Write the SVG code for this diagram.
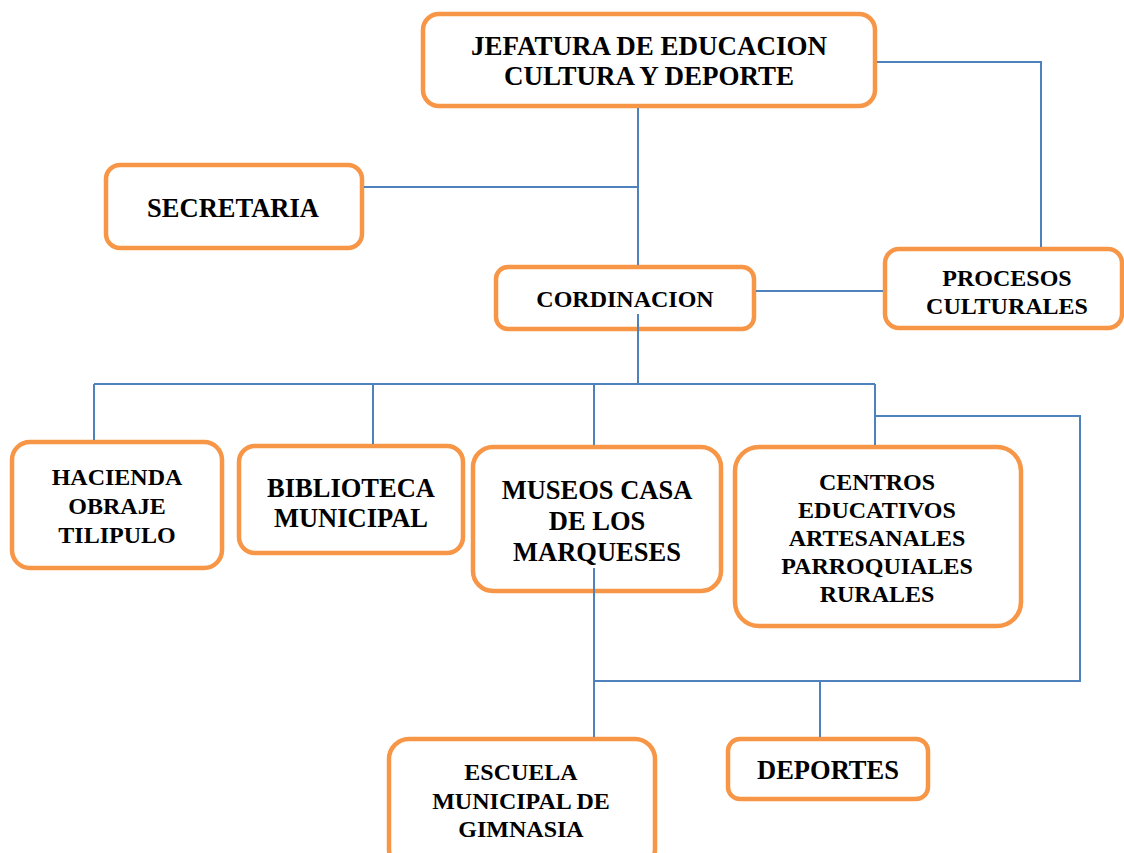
<svg xmlns="http://www.w3.org/2000/svg" width="1124" height="853" viewBox="0 0 1124 853">
<style>
.box{fill:#fff;stroke:#F79646;stroke-width:4.5}
.ln{fill:none;stroke:#4F81BD;stroke-width:2}
text{font-family:"Liberation Serif","Times New Roman",serif;font-weight:bold;fill:#000;text-anchor:middle}
</style>
<rect width="1124" height="853" fill="#fff"/>
<g id="jefatura"><rect class="box" x="423" y="14" width="452" height="92" rx="16"/><text x="649" y="55" font-size="27">JEFATURA DE EDUCACION</text><text x="649" y="85" font-size="27">CULTURA Y DEPORTE</text></g>
<g id="secretaria"><rect class="box" x="106" y="165" width="256" height="83" rx="14"/><text x="233" y="217" font-size="26.5">SECRETARIA</text></g>
<g id="cordinacion"><rect class="box" x="496" y="267" width="258" height="62" rx="12"/><text x="625" y="307" font-size="24">CORDINACION</text></g>
<g id="procesos"><rect class="box" x="885" y="249" width="237" height="79" rx="14"/><text x="1007" y="286" font-size="24">PROCESOS</text><text x="1007" y="314" font-size="24">CULTURALES</text></g>
<g id="hacienda"><rect class="box" x="12" y="442" width="210" height="126" rx="18"/><text x="117" y="485" font-size="24">HACIENDA</text><text x="117" y="514" font-size="24">OBRAJE</text><text x="117" y="543" font-size="24">TILIPULO</text></g>
<g id="biblioteca"><rect class="box" x="239" y="446" width="224" height="107" rx="16"/><text x="351" y="497" font-size="26.5">BIBLIOTECA</text><text x="351" y="527" font-size="26.5">MUNICIPAL</text></g>
<g id="museos"><rect class="box" x="473" y="447" width="248" height="144" rx="20"/><text x="597" y="499" font-size="26.5">MUSEOS CASA</text><text x="597" y="530" font-size="26.5">DE LOS</text><text x="597" y="561" font-size="26.5">MARQUESES</text></g>
<g id="centros"><rect class="box" x="735" y="447" width="286" height="179" rx="24"/><text x="877" y="490" font-size="24">CENTROS</text><text x="877" y="518" font-size="24">EDUCATIVOS</text><text x="877" y="546" font-size="24">ARTESANALES</text><text x="877" y="574" font-size="24">PARROQUIALES</text><text x="877" y="602" font-size="24">RURALES</text></g>
<g id="escuela"><rect class="box" x="389" y="739" width="266" height="130" rx="20"/><text x="521" y="780" font-size="24">ESCUELA</text><text x="521" y="809" font-size="24">MUNICIPAL DE</text><text x="521" y="837" font-size="24">GIMNASIA</text></g>
<g id="deportes"><rect class="box" x="728" y="739" width="200" height="60" rx="12"/><text x="828" y="779" font-size="26.5">DEPORTES</text></g>
<g id="connectors">
<path class="ln" d="M638 108V265M364 187H638M877 62H1041V247M756 291H883M638 314V384M94 384H875M94 384V440M373 384V444M594 384V445M875 384V445M875 416H1080V681H594M594 568V737M820 681V737"/>
</g>
</svg>
